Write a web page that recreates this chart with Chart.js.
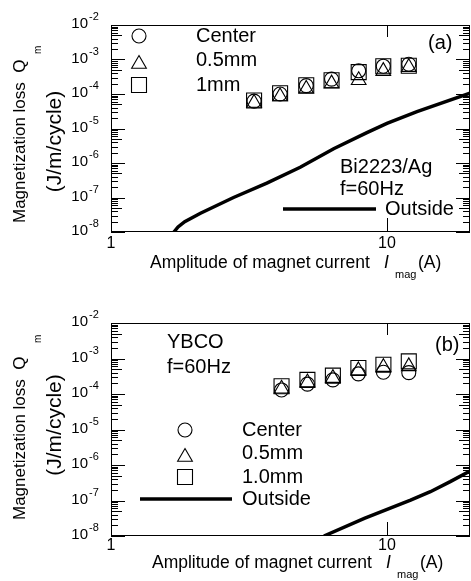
<!DOCTYPE html>
<html>
<head>
<meta charset="utf-8">
<script src="https://cdn.jsdelivr.net/npm/chart.js@4.4.1/dist/chart.umd.min.js"></script>
<style>
  html, body { margin: 0; padding: 0; background: #fff; }
  .wrap { position: relative; width: 471px; height: 581px; }
  canvas { position: absolute; left: 0; }
  #chartA { top: 0; }
  #chartB { top: 290px; }
</style>
</head>
<body>
<div class="wrap">
  <canvas id="chartA" width="471" height="290"></canvas>
  <canvas id="chartB" width="471" height="291"></canvas>
</div>
<script>
// (a) Bi2223/Ag, f=60Hz
const currentA = [3.3, 4.1, 5.1, 6.3, 7.9, 9.7, 12.0];
const centerA = [6.2e-5, 1.0e-4, 1.75e-4, 2.7e-4, 4.7e-4, 6.4e-4, 7.3e-4];
const mm05A = [5.5e-5, 8.5e-5, 1.4e-4, 2.0e-4, 2.5e-4, 4.6e-4, 6.0e-4];
const mm1A = [6.5e-5, 1.05e-4, 1.8e-4, 2.5e-4, 4.3e-4, 6.4e-4, 6.6e-4];
const outsideXA = [1.69, 1.75, 1.85, 2.11, 2.78, 3.67, 4.85, 6.41, 8.46, 10, 12.85, 20];
const outsideA = [1.0e-8, 1.4e-8, 2.0e-8, 3.5e-8, 1.0e-7, 2.6e-7, 7.5e-7, 2.6e-6, 7.6e-6, 1.4e-5, 3.1e-5, 1.05e-4];

// (b) YBCO, f=60Hz
const currentB = [4.15, 5.15, 6.37, 7.88, 9.71, 12.0];
const centerB = [1.3e-4, 1.9e-4, 2.5e-4, 3.7e-4, 4.1e-4, 4.0e-4];
const mm05B = [1.4e-4, 2.1e-4, 2.8e-4, 4.6e-4, 5.7e-4, 6.0e-4];
const mm1B = [1.65e-4, 2.5e-4, 3.3e-4, 5.4e-4, 6.7e-4, 8.3e-4];
const outsideXB = [5.91, 8.28, 12.18, 14.37, 16.96, 20];
const outsideB = [1.0e-8, 3.15e-8, 1.03e-7, 1.77e-7, 3.4e-7, 6.8e-7];

// axis ticks
const yDecades = [-8, -7, -6, -5, -4, -3, -2];
const xLabels = [1, 10];

const SANS = '"Liberation Sans", Arial, sans-serif';
Chart.defaults.font.family = SANS;

const R = { circle: 7, triangle: 8.5, rect: 10.6 };

function markers(label, xs, ys, style) {
  return {
    label: label,
    data: xs.map((x, i) => ({ x: x, y: ys[i] })),
    showLine: false,
    pointStyle: style,
    pointRadius: R[style],
    pointHoverRadius: R[style],
    pointBorderColor: '#000',
    pointBackgroundColor: 'rgba(0,0,0,0)',
    pointBorderWidth: 1.1
  };
}

function outside(xs, ys) {
  return {
    label: 'Outside',
    data: xs.map((x, i) => ({ x: x, y: ys[i] })),
    showLine: true,
    borderColor: '#000',
    borderWidth: 3.5,
    pointRadius: 0,
    tension: 0
  };
}

function scalesFor(xHeight) {
  return {
    x: {
      type: 'logarithmic', min: 1, max: 20, position: 'bottom',
      grid: { display: false }, border: { display: false },
      ticks: { display: false },
      afterFit: s => { s.height = xHeight; }
    },
    y: {
      type: 'logarithmic', min: 1e-8, max: 1e-2,
      grid: { display: false }, border: { display: false },
      ticks: { display: false },
      afterFit: s => { s.width = 111; }
    }
  };
}

function seg(ctx, x1, y1, x2, y2) {
  ctx.beginPath(); ctx.moveTo(x1, y1); ctx.lineTo(x2, y2); ctx.stroke();
}

function drawMarker(ctx, style, x, y) {
  ctx.save();
  ctx.strokeStyle = '#000';
  ctx.fillStyle = 'rgba(0,0,0,0)';
  ctx.lineWidth = 1.1;
  Chart.helpers.drawPoint(ctx, { pointStyle: style, radius: R[style], rotation: 0, borderWidth: 1.1 }, x, y);
  ctx.restore();
}

// box, inward ticks and tick labels
function drawAxes(chart, xLabelY) {
  const { ctx, chartArea: a, scales: { x, y } } = chart;
  ctx.save();
  ctx.strokeStyle = '#000';
  ctx.fillStyle = '#000';
  ctx.lineWidth = 1;
  ctx.strokeRect(a.left + 0.5, a.top + 0.5, a.right - a.left - 1, a.bottom - a.top - 1);

  yDecades.forEach(e => {
    for (let m = 1; m < 10; m++) {
      if (e === -2 && m > 1) break;
      const py = Math.round(y.getPixelForValue(m * Math.pow(10, e))) + 0.5;
      const len = m === 1 ? 14 : (m === 5 ? 11 : 7);
      seg(ctx, a.left, py, a.left + len, py);
      seg(ctx, a.right, py, a.right - len, py);
    }
  });
  const p10 = Math.round(x.getPixelForValue(10)) + 0.5;
  seg(ctx, p10, a.bottom, p10, a.bottom - 14);
  seg(ctx, p10, a.top, p10, a.top + 12);

  // y labels 10^k
  ctx.textBaseline = 'middle';
  yDecades.forEach(e => {
    const py = y.getPixelForValue(Math.pow(10, e));
    ctx.font = '15px ' + SANS;
    ctx.textAlign = 'right';
    ctx.fillText('10', 88, py - 1);
    ctx.font = '11px ' + SANS;
    ctx.textAlign = 'left';
    ctx.fillText(String(e), 89, py - 8);
  });
  // x labels
  ctx.font = '16px ' + SANS;
  ctx.textAlign = 'center';
  xLabels.forEach(v => {
    ctx.fillText(String(v), x.getPixelForValue(v), xLabelY);
  });
  ctx.restore();
}

function xTitle(ctx, x0, yc) {
  ctx.save();
  ctx.fillStyle = '#000';
  ctx.textBaseline = 'middle';
  ctx.textAlign = 'left';
  ctx.font = '17.5px ' + SANS;
  ctx.fillText('Amplitude of magnet current', x0, yc);
  ctx.font = 'italic 17.5px ' + SANS;
  ctx.fillText('I', x0 + 234, yc);
  ctx.font = '11px ' + SANS;
  ctx.fillText('mag', x0 + 245, yc + 12);
  ctx.font = '17.5px ' + SANS;
  ctx.fillText('(A)', x0 + 268, yc);
  ctx.restore();
}

function yTitle(ctx, startY, line2Y, subY) {
  ctx.save();
  ctx.fillStyle = '#000';
  ctx.textBaseline = 'middle';
  ctx.translate(20, startY);
  ctx.rotate(-Math.PI / 2);
  ctx.textAlign = 'left';
  ctx.font = '17px ' + SANS;
  ctx.fillText('Magnetization loss  Q', 0, 0);
  ctx.font = '10px ' + SANS;
  ctx.fillText('m', startY - subY, 18);
  ctx.restore();
  ctx.save();
  ctx.fillStyle = '#000';
  ctx.textBaseline = 'middle';
  ctx.translate(55, line2Y);
  ctx.rotate(-Math.PI / 2);
  ctx.textAlign = 'center';
  ctx.font = '21px ' + SANS;
  ctx.fillText('(J/m/cycle)', 0, 0);
  ctx.restore();
}

function txt(ctx, s, x, y) {
  ctx.save();
  ctx.fillStyle = '#000';
  ctx.font = '20px ' + SANS;
  ctx.textAlign = 'left';
  ctx.textBaseline = 'middle';
  ctx.fillText(s, x, y);
  ctx.restore();
}

function keyLine(ctx, x1, x2, y) {
  ctx.save();
  ctx.strokeStyle = '#000';
  ctx.lineWidth = 3.5;
  seg(ctx, x1, y, x2, y);
  ctx.restore();
}

const decorA = {
  id: 'decorA',
  afterDraw(chart) {
    const ctx = chart.ctx;
    drawAxes(chart, 244);
    xTitle(ctx, 150, 263);
    yTitle(ctx, 223, 141.5, 54);
    drawMarker(ctx, 'circle', 139, 36);
    drawMarker(ctx, 'triangle', 139, 64);
    drawMarker(ctx, 'rect', 139, 85);
    txt(ctx, 'Center', 196, 36);
    txt(ctx, '0.5mm', 196, 60);
    txt(ctx, '1mm', 196, 85);
    txt(ctx, '(a)', 428, 43);
    txt(ctx, 'Bi2223/Ag', 340, 167);
    txt(ctx, 'f=60Hz', 340, 189);
    keyLine(ctx, 283, 376, 209);
    txt(ctx, 'Outside', 385, 209);
  }
};

const decorB = {
  id: 'decorB',
  afterDraw(chart) {
    const ctx = chart.ctx;
    drawAxes(chart, 256);
    xTitle(ctx, 152, 273);
    yTitle(ctx, 230, 135, 53);
    drawMarker(ctx, 'circle', 185, 140);
    drawMarker(ctx, 'triangle', 185, 167);
    drawMarker(ctx, 'rect', 185, 187);
    txt(ctx, 'YBCO', 167, 52);
    txt(ctx, 'f=60Hz', 167, 77);
    txt(ctx, '(b)', 435, 55);
    txt(ctx, 'Center', 242, 140);
    txt(ctx, '0.5mm', 242, 163);
    txt(ctx, '1.0mm', 242, 187);
    keyLine(ctx, 140, 232, 209);
    txt(ctx, 'Outside', 242, 209);
  }
};

function makeChart(id, datasets, plugin, padTop, xHeight) {
  return new Chart(document.getElementById(id).getContext('2d'), {
    type: 'scatter',
    data: { datasets: datasets },
    options: {
      responsive: false,
      animation: false,
      devicePixelRatio: 1,
      layout: { autoPadding: false, padding: { top: padTop, right: 1, left: 0, bottom: 0 } },
      plugins: { legend: { display: false }, tooltip: { enabled: false } },
      scales: scalesFor(xHeight)
    },
    plugins: [plugin]
  });
}

const chartA = makeChart('chartA', [
  markers('Center', currentA, centerA, 'circle'),
  markers('0.5mm', currentA, mm05A, 'triangle'),
  markers('1mm', currentA, mm1A, 'rect'),
  outside(outsideXA, outsideA)
], decorA, 25, 58);

const chartB = makeChart('chartB', [
  markers('Center', currentB, centerB, 'circle'),
  markers('0.5mm', currentB, mm05B, 'triangle'),
  markers('1.0mm', currentB, mm1B, 'rect'),
  outside(outsideXB, outsideB)
], decorB, 33, 45);
</script>
</body>
</html>
